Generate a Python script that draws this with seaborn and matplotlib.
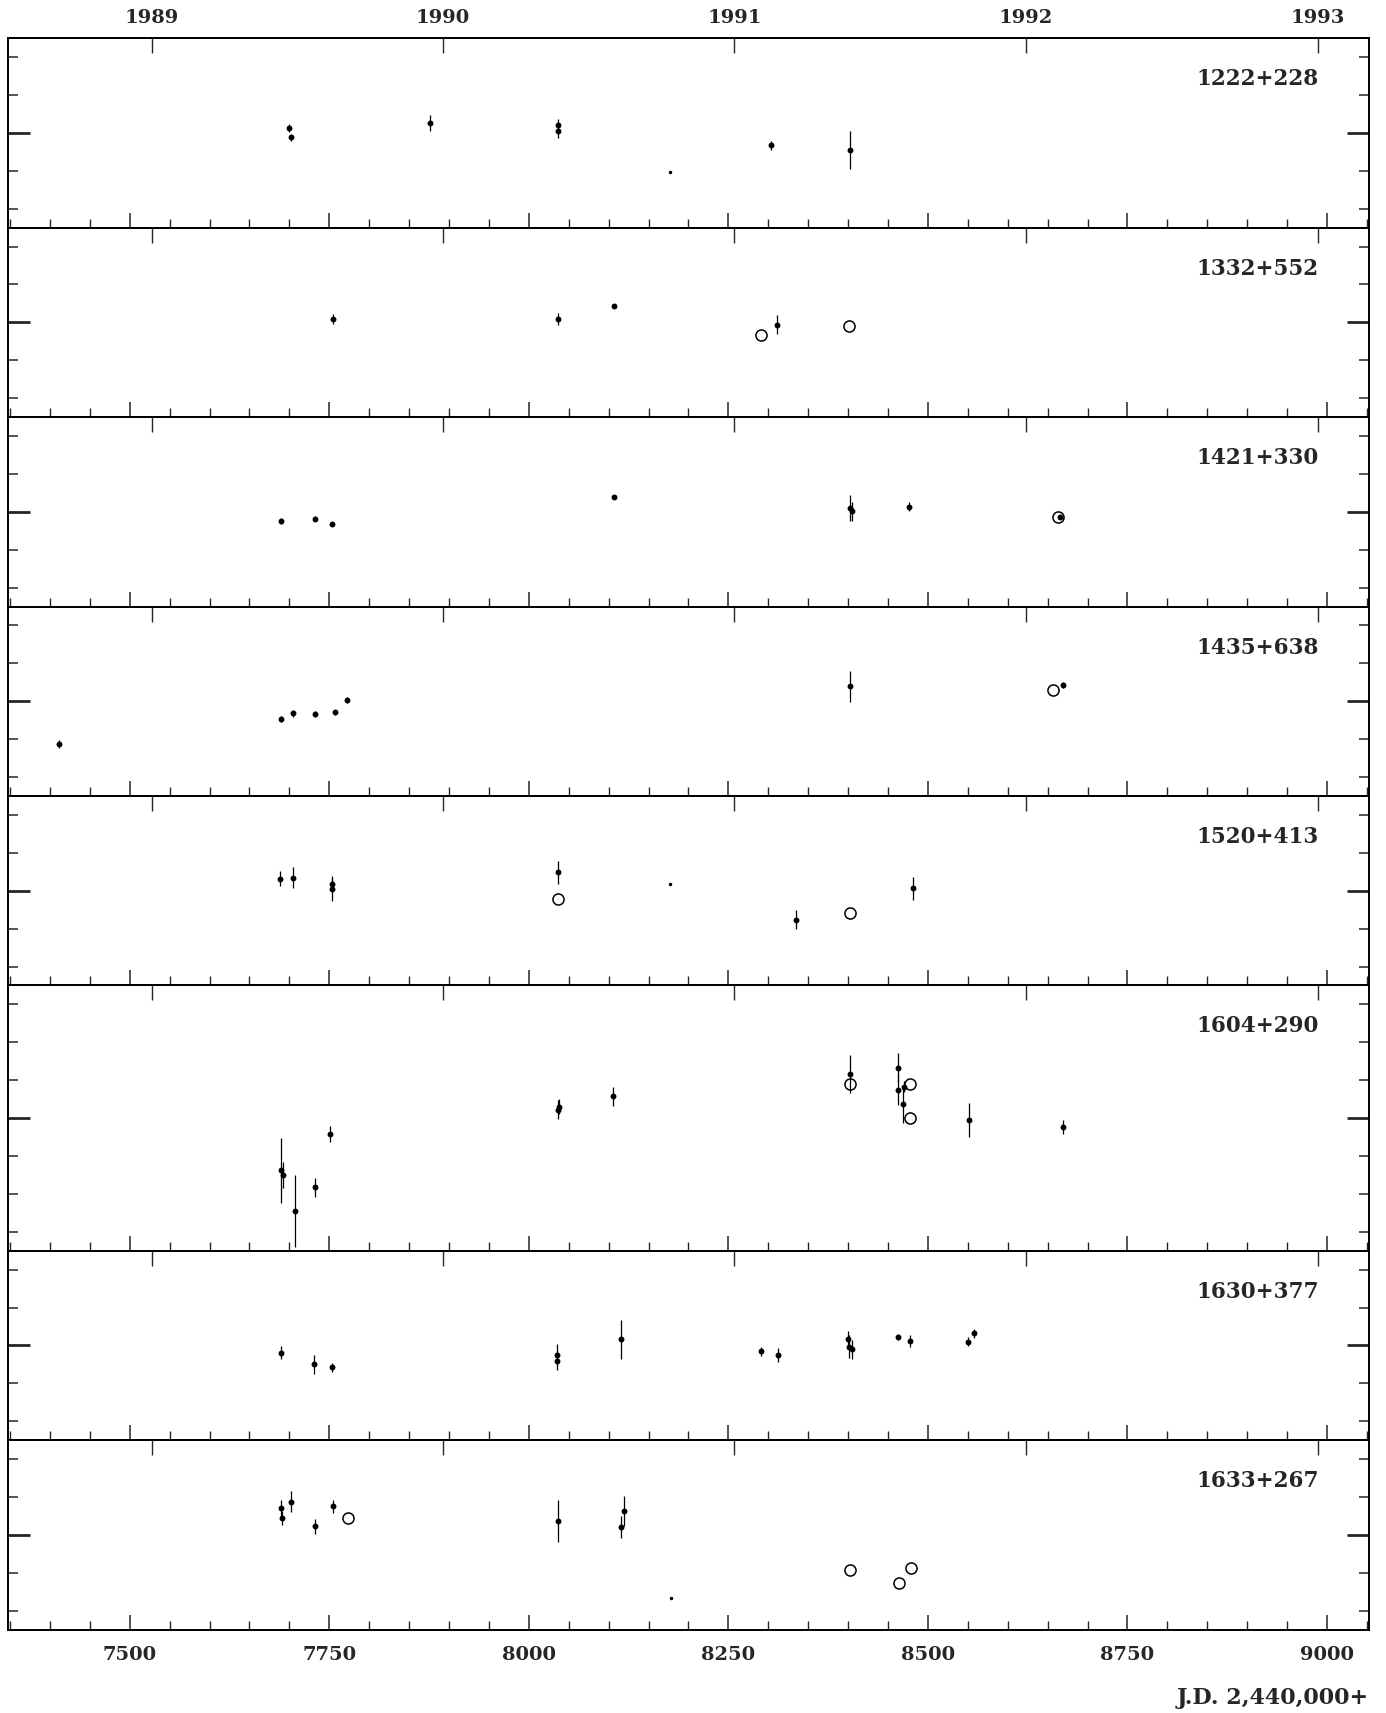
import matplotlib
matplotlib.use("Agg")
import matplotlib.pyplot as plt
import matplotlib.transforms as mtransforms
from matplotlib.ticker import MultipleLocator, FixedLocator
import seaborn as sns

# panel names (top to bottom)
names = ["1222+228", "1332+552", "1421+330", "1435+638",
         "1520+413", "1604+290", "1630+377", "1633+267"]

# year marks on top axis (J.D. - 2,440,000 of Jan 1)
year_labels = ["1989", "1990", "1991", "1992", "1993"]
year_jd = [7527.5, 7892.5, 8257.5, 8622.5, 8988.5]

# filled points: J.D. - 2,440,000, relative brightness, error
jd_1222 = [7700.0, 7702.4, 7876.0, 8036.4, 8036.4, 8302.8, 8402.7]
val_1222 = [0.13, -0.12, 0.26, 0.20, 0.05, -0.33, -0.46]
err_1222 = [0.10, 0.10, 0.20, 0.18, 0.18, 0.12, 0.50]
open_jd_1222 = []
open_val_1222 = []

jd_1332 = [7755.0, 8036.4, 8106.5, 8310.7]
val_1332 = [0.09, 0.09, 0.43, -0.06]
err_1332 = [0.12, 0.16, 0.04, 0.25]
open_jd_1332 = [8290.5, 8401.0]
open_val_1332 = [-0.33, -0.09]

jd_1421 = [7689.3, 7732.3, 7753.3, 8106.5, 8402.7, 8405.3, 8476.3, 8666.0]
val_1421 = [-0.24, -0.18, -0.33, 0.40, 0.10, 0.01, 0.14, -0.14]
err_1421 = [0.08, 0.06, 0.05, 0.04, 0.35, 0.25, 0.12, 0.06]
open_jd_1421 = [8663.0]
open_val_1421 = [-0.14]

jd_1435 = [7411.5, 7689.3, 7705.0, 7732.3, 7756.8, 7772.6, 8402.7, 8669.0]
val_1435 = [-1.13, -0.46, -0.32, -0.33, -0.29, 0.03, 0.39, 0.42]
err_1435 = [0.10, 0.08, 0.10, 0.08, 0.07, 0.08, 0.40, 0.08]
open_jd_1435 = [8657.0]
open_val_1435 = [0.31]

jd_1520 = [7688.6, 7704.4, 7753.5, 7753.5, 8036.8, 8335.0, 8480.7]
val_1520 = [0.32, 0.34, 0.18, 0.04, 0.49, -0.76, 0.06]
err_1520 = [0.20, 0.28, 0.20, 0.30, 0.30, 0.25, 0.30]
open_jd_1520 = [8036.0, 8401.8]
open_val_1520 = [-0.23, -0.60]

jd_1604 = [7690.0, 7691.5, 7707.0, 7731.6, 7750.9, 8036.8, 8037.5, 8105.3,
           8402.6, 8463.0, 8463.0, 8468.4, 8470.0, 8550.9, 8669.3]
val_1604 = [-1.38, -1.50, -2.45, -1.83, -0.42, 0.22, 0.30, 0.57,
            1.16, 1.32, 0.75, 0.36, 0.83, -0.06, -0.24]
err_1604 = [0.85, 0.35, 0.95, 0.25, 0.20, 0.25, 0.20, 0.25,
            0.50, 0.40, 0.40, 0.50, 0.15, 0.45, 0.18]
open_jd_1604 = [8401.8, 8478.0, 8478.0]
open_val_1604 = [0.89, 0.91, 0.01]

jd_1630 = [7689.5, 7730.7, 7753.5, 8035.0, 8035.0, 8115.8, 8290.4, 8312.3,
           8400.0, 8400.5, 8404.4, 8463.0, 8478.0, 8550.0, 8558.0]
val_1630 = [-0.19, -0.50, -0.58, -0.25, -0.41, 0.16, -0.16, -0.26,
            0.17, -0.03, -0.10, 0.22, 0.12, 0.10, 0.32]
err_1630 = [0.18, 0.25, 0.12, 0.30, 0.25, 0.52, 0.12, 0.18,
            0.20, 0.30, 0.25, 0.07, 0.15, 0.12, 0.12]
open_jd_1630 = []
open_val_1630 = []

jd_1633 = [7689.5, 7690.4, 7702.6, 7731.6, 7754.4, 8036.0, 8115.8, 8119.3]
val_1633 = [0.71, 0.45, 0.88, 0.23, 0.75, 0.37, 0.21, 0.63]
err_1633 = [0.20, 0.18, 0.27, 0.20, 0.18, 0.55, 0.28, 0.40]
open_jd_1633 = [7773.7, 8402.6, 8464.0, 8479.0]
open_val_1633 = [0.44, -0.93, -1.28, -0.87]

# small specks on the scan
speck_jd = [[8176.6], [], [], [], [8176.3], [], [], [8178.0]]
speck_val = [[-1.02], [], [], [], [0.19], [], [], [-1.66]]

filled_jd = [jd_1222, jd_1332, jd_1421, jd_1435, jd_1520, jd_1604, jd_1630, jd_1633]
filled_val = [val_1222, val_1332, val_1421, val_1435, val_1520, val_1604, val_1630, val_1633]
filled_err = [err_1222, err_1332, err_1421, err_1435, err_1520, err_1604, err_1630, err_1633]
open_jd = [open_jd_1222, open_jd_1332, open_jd_1421, open_jd_1435,
           open_jd_1520, open_jd_1604, open_jd_1630, open_jd_1633]
open_val = [open_val_1222, open_val_1332, open_val_1421, open_val_1435,
            open_val_1520, open_val_1604, open_val_1630, open_val_1633]

half_range = [2.5, 2.5, 2.5, 2.5, 2.5, 3.5, 2.5, 2.5]

sns.set_style("ticks")
plt.rcParams["font.family"] = ["DejaVu Serif"]
plt.rcParams["font.weight"] = "bold"

fig = plt.figure(figsize=(13.86, 17.13), dpi=100)
gs = fig.add_gridspec(8, 1, height_ratios=[2 * h for h in half_range], hspace=0,
                      left=0.0055, right=0.9874, top=0.9777, bottom=0.0487)

axes = []
for i, name in enumerate(names):
    ax = fig.add_subplot(gs[i, 0])
    axes.append(ax)
    h = half_range[i]

    ax.errorbar(filled_jd[i], filled_val[i], yerr=filled_err[i], fmt="none",
                ecolor="black", elinewidth=0.9, capsize=0)
    sns.scatterplot(x=filled_jd[i], y=filled_val[i], ax=ax, color="black",
                    s=18, marker="o", linewidth=0)
    if open_jd[i]:
        ax.plot(open_jd[i], open_val[i], linestyle="none", marker="o",
                markersize=8, markerfacecolor="none", markeredgecolor="black",
                markeredgewidth=1.1)
    if speck_jd[i]:
        ax.plot(speck_jd[i], speck_val[i], linestyle="none", marker="o",
                markersize=1.5, color="black")

    ax.set_xlim(7347, 9052)
    ax.set_ylim(-h, h)

    # bottom J.D. ticks
    ax.xaxis.set_major_locator(MultipleLocator(250))
    ax.xaxis.set_minor_locator(MultipleLocator(50))
    ax.tick_params(axis="x", which="major", direction="in", length=11, width=1.1,
                   top=False, bottom=True, labelbottom=(i == len(names) - 1),
                   labelsize=14, pad=12)
    ax.tick_params(axis="x", which="minor", direction="in", length=6.5, width=1.0,
                   top=False, bottom=True)

    # y ticks, long one at the middle
    ax.yaxis.set_major_locator(FixedLocator([0]))
    minor = [k for k in range(-int(h), int(h) + 1) if k != 0]
    ax.yaxis.set_minor_locator(FixedLocator(minor))
    ax.tick_params(axis="y", which="major", direction="in", length=16, width=2.0,
                   left=True, right=True, labelleft=False)
    ax.tick_params(axis="y", which="minor", direction="in", length=7, width=1.1,
                   left=True, right=True, labelleft=False)

    # top year ticks
    sec = ax.secondary_xaxis("top")
    sec.set_xticks(year_jd, year_labels if i == 0 else [""] * len(year_jd))
    sec.tick_params(direction="in", length=11, width=1.0, labelsize=14, pad=8)
    sec.spines["top"].set_linewidth(1.4)

    for sp in ax.spines.values():
        sp.set_linewidth(1.4)
        sp.set_color("black")

    ax.set_xlabel("")
    ax.set_ylabel("")

    trans = mtransforms.offset_copy(ax.transAxes, fig=fig, x=-50, y=-41, units="dots")
    ax.text(1.0, 1.0, name, transform=trans, ha="right", va="center",
            fontsize=15.5, fontweight="bold")

for lab in axes[-1].get_xticklabels():
    lab.set_fontweight("bold")

fig.text(0.9874, 1 - 1698 / 1713, "J.D. 2,440,000+", ha="right", va="center",
         fontsize=16, fontweight="bold")

fig.savefig("out.png", dpi=100, facecolor="white")
